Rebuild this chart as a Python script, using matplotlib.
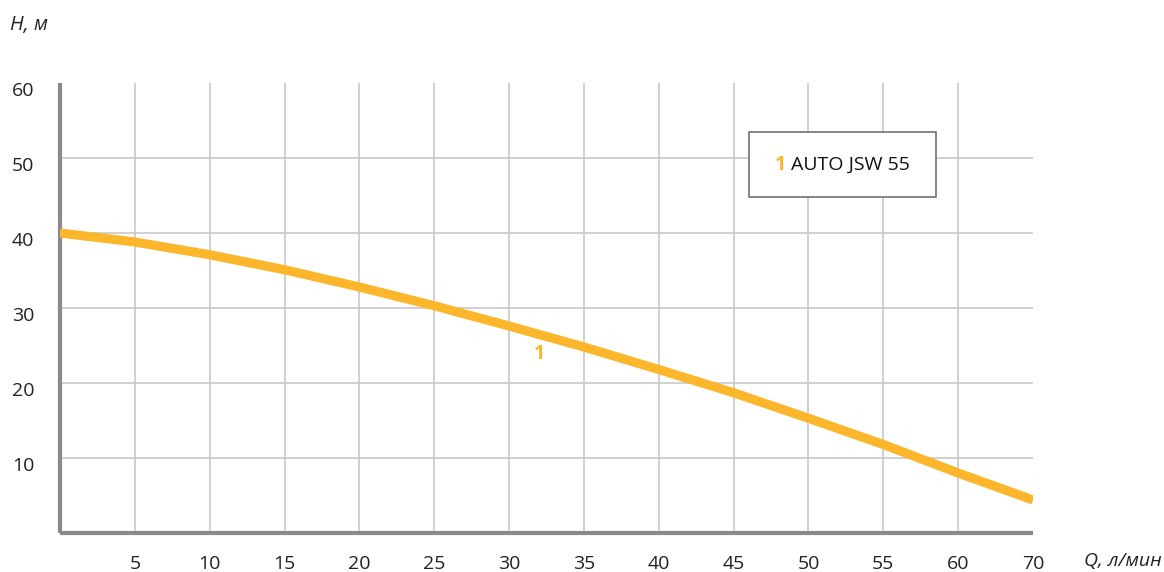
import matplotlib
matplotlib.use("Agg")
import matplotlib.pyplot as plt
from matplotlib.patches import Rectangle
from matplotlib.transforms import ScaledTranslation

plt.rcParams['font.family'] = ['Open Sans', 'DejaVu Sans']

# Data (x in axis position units; the last gridline position is labelled "70" in the original)
q_pos = [0, 5, 10, 15, 20, 25, 30, 35, 40, 45, 50, 55, 60, 65]
head = [40.0, 38.8, 37.1, 35.1, 32.8, 30.3, 27.6, 24.8, 21.8, 18.7, 15.3, 11.8, 8.0, 4.4]
x_tick_pos = [5, 10, 15, 20, 25, 30, 35, 40, 45, 50, 55, 60, 65]
x_tick_labels = ["5", "10", "15", "20", "25", "30", "35", "40", "45", "50", "55", "60", "70"]
y_ticks = [10, 20, 30, 40, 50, 60]
y_tick_labels = ["10", "20", "30", "40", "50", "60"]
series_name = "AUTO JSW 55"
series_id = "1"

ORANGE = "#FBB62B"
GRID = "#c8c8c8"
SPINE = "#8a8a8a"

fig = plt.figure(figsize=(11.64, 5.72), dpi=100)
ax = fig.add_axes([60/1164, 1-533/572, 973/1164, 450/572])

ax.set_xlim(0, 65)
ax.set_ylim(0, 60)

ax.plot(q_pos, head, color=ORANGE, lw=6.6, solid_capstyle='butt',
        solid_joinstyle='round', zorder=3)

ax.set_xticks(x_tick_pos)
ax.set_xticklabels(x_tick_labels)
ax.set_yticks(y_ticks)
ax.set_yticklabels(y_tick_labels)
ax.tick_params(axis='both', length=0, labelsize=14, colors='#222222')
ax.tick_params(axis='x', pad=16)
ax.tick_params(axis='y', pad=18.5)
for lab in ax.get_yticklabels():
    lab.set_transform(lab.get_transform() + ScaledTranslation(0, -6/100, fig.dpi_scale_trans))

ax.grid(True, color=GRID, lw=1.2, zorder=0)
ax.set_axisbelow(True)
ax.get_xgridlines()[-1].set_visible(False)
ax.get_ygridlines()[-1].set_visible(False)

for s in ['top', 'right']:
    ax.spines[s].set_visible(False)
for s in ['left', 'bottom']:
    ax.spines[s].set_color(SPINE)
    ax.spines[s].set_linewidth(3.0)
    ax.spines[s].set_capstyle('butt')

# curve label
ax.text(32.0, 23.9, series_id, color=ORANGE, fontsize=14, fontweight='bold',
        ha='center', va='center', zorder=4)

# legend box
ax.add_patch(Rectangle((0.708, 0.7467), 0.1922, 0.1444, transform=ax.transAxes,
                       facecolor='white', edgecolor='#666666', lw=1.1, zorder=5))
ax.text(0.7348, 0.8178, series_id, transform=ax.transAxes, color=ORANGE,
        fontsize=14, fontweight='bold', ha='left', va='center', zorder=6)
ax.text(0.7513, 0.8178, series_name, transform=ax.transAxes, color='#111111',
        fontsize=14, ha='left', va='center', zorder=6)

fig.text(10/1164, 1-25/572, "H, м", fontsize=14.5, style='italic', color='#222222',
         ha='left', va='center')
fig.text(1084/1164, 1-561/572, "Q, л/мин", fontsize=14, style='italic', color='#222222',
         ha='left', va='center')

fig.savefig("out.png", dpi=100, facecolor='white')
